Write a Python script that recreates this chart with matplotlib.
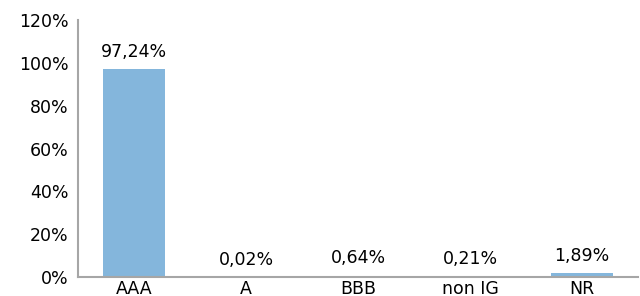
import matplotlib.pyplot as plt
from matplotlib.ticker import FuncFormatter

categories = ['AAA', 'A', 'BBB', 'non IG', 'NR']
values = [97.24, 0.02, 0.64, 0.21, 1.89]
labels = ['97,24%', '0,02%', '0,64%', '0,21%', '1,89%']

fig = plt.figure(figsize=(6.4, 2.96), dpi=100)
ax = fig.add_axes([0.122, 0.064, 0.875, 0.868])

x = range(len(categories))
bars = ax.bar(x, values, width=0.55, color='#84b6dc')

for b, lab in zip(bars, labels):
    ax.annotate(lab, (b.get_x() + b.get_width() / 2, b.get_height()),
                xytext=(0, 6), textcoords='offset points',
                ha='center', va='bottom', fontsize=12.5)

ax.set_xlim(-0.5, len(categories) - 0.5)
ax.set_ylim(0, 120)
ax.set_yticks(range(0, 121, 20))
ax.yaxis.set_major_formatter(FuncFormatter(lambda v, p: '%d%%' % v))
ax.set_xticks(list(x))
ax.set_xticklabels(categories)
ax.tick_params(axis='both', length=0, labelsize=12.5)
ax.tick_params(axis='x', pad=2)
ax.tick_params(axis='y', pad=7)

for s in ['top', 'right']:
    ax.spines[s].set_visible(False)
for s in ['left', 'bottom']:
    ax.spines[s].set_color('#a6a6a6')
    ax.spines[s].set_linewidth(1.5)

fig.savefig('out.png', dpi=100)
